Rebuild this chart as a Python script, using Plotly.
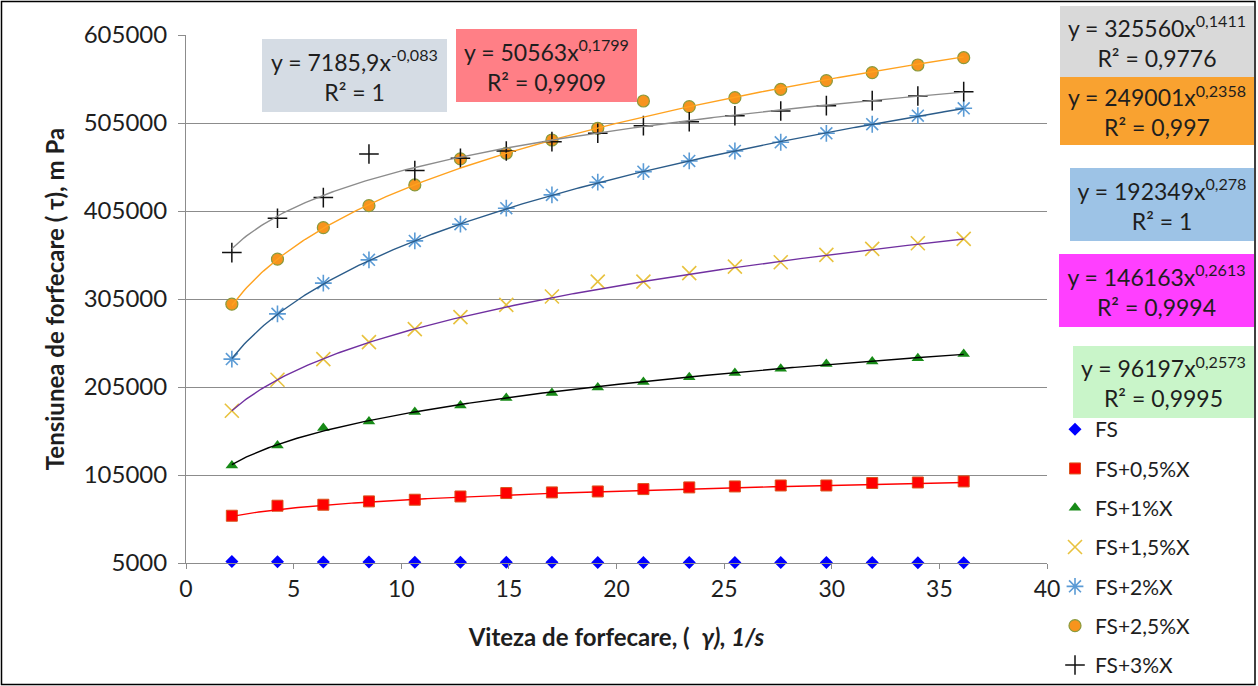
import numpy as np
import plotly.graph_objects as go

# Shear rate (1/s)
shear_rate = [2.13, 4.25, 6.38, 8.5, 10.63, 12.75, 14.88, 17.0, 19.13, 21.25,
              23.38, 25.5, 27.63, 29.75, 31.88, 34.0, 36.13]

# Shear stress (mPa) for each sample
tau_fs = [6800, 6400, 6200, 6000, 5900, 5850, 5800, 5750, 5700, 5650,
          5600, 5550, 5500, 5500, 5450, 5400, 5400]
tau_fs05 = [58700, 70100, 71200, 75000, 76900, 80600, 84500, 85200, 86300, 89000,
            90900, 92000, 93100, 93100, 95900, 96500, 97700]
tau_fs1 = [115800, 138600, 158300, 165800, 176500, 184000, 192400, 198100, 204400, 210600,
           216200, 220800, 225700, 231000, 234000, 237800, 242400]
tau_fs15 = [178000, 213200, 236700, 256000, 270700, 284400, 298300, 307800, 324800, 324800,
            334400, 341800, 346800, 355100, 362000, 368400, 373300]
tau_fs2 = [236700, 288100, 323000, 349500, 371000, 390000, 408200, 423300, 437700, 449700,
           461900, 473200, 483100, 493300, 503600, 513300, 521700]
tau_fs25 = [299100, 350300, 386100, 411100, 434600, 464200, 470600, 485700, 499000, 530000,
            523600, 533800, 543300, 553100, 562200, 570900, 579200]
tau_fs3 = [357700, 396800, 420200, 469800, 450900, 465000, 473200, 483800, 493300, 502000,
           506500, 513300, 518700, 524700, 530400, 535700, 540600]

series_names = ["FS", "FS+0,5%X", "FS+1%X", "FS+1,5%X", "FS+2%X", "FS+2,5%X", "FS+3%X"]

# Power-law trendlines y = a * x^b with their R² values
fit_a = [7185.9, 50563, 96197, 146163, 192349, 249001, 325560]
fit_b = [-0.083, 0.1799, 0.2573, 0.2613, 0.278, 0.2358, 0.1411]
fit_r2 = [1, 0.9909, 0.9995, 0.9994, 1, 0.997, 0.9776]

y_ticks = [5000, 105000, 205000, 305000, 405000, 505000, 605000]
x_ticks = [0, 5, 10, 15, 20, 25, 30, 35, 40]

all_tau = [tau_fs, tau_fs05, tau_fs1, tau_fs15, tau_fs2, tau_fs25, tau_fs3]

W, H = 1258, 686
ML, MR, MT, MB = 186, 211, 35, 123
PW, PH = W - ML - MR, H - MT - MB


def px_x(px):
    return (px - ML) / PW


def px_y(py):
    return (H - MB - py) / PH


def dec(v):
    return ("%g" % v).replace(".", ",")


markers = [
    dict(symbol="diamond", size=10, color="#0000FF"),
    dict(symbol="square", size=11, color="#FF0000", line=dict(color="#D9541E", width=1)),
    dict(symbol="triangle-up", size=11, color="#178A17"),
    dict(symbol="x-thin-open", size=14, color="#E8C23E", line=dict(color="#E8C23E", width=1.6)),
    dict(symbol="asterisk-open", size=14, color="#5B9BD5", line=dict(color="#5B9BD5", width=1.6)),
    dict(symbol="circle", size=12, color="#F7941D", line=dict(color="#8A9A3C", width=1.2)),
    dict(symbol="cross-thin-open", size=14, color="#111111", line=dict(color="#111111", width=1.5)),
]

trend_colors = [None, "#FF0000", "#000000", "#7030A0", "#2B5C8A", "#FFA21F", "#8C8C8C"]

fig = go.Figure()

for i, (name, tau) in enumerate(zip(series_names, all_tau)):
    fig.add_trace(go.Scatter(
        x=shear_rate, y=tau, mode="markers", name=name,
        marker=markers[i], legendgroup=name, cliponaxis=False,
    ))

xs = np.linspace(shear_rate[0], shear_rate[-1], 300)
for i in range(1, len(series_names)):
    fig.add_trace(go.Scatter(
        x=xs, y=fit_a[i] * xs ** fit_b[i], mode="lines",
        line=dict(color=trend_colors[i], width=1.4),
        showlegend=False, hoverinfo="skip",
    ))

# Trendline equation boxes: (left, top, width, height) in pixels, fill colour
eq_boxes = [
    (262, 39, 185, 73, "#D5DCE4"),
    (456, 29, 181, 73, "#FF7F86"),
    (1070, 168, 184, 73, "#9DC3E6"),
    (1059, 254, 195, 73, "#FF3FFF"),
    (1073, 346, 181, 72, "#C9F5C9"),
    (1060, 77, 194, 68, "#F9A230"),
    (1060, 6, 194, 71, "#D9D9D9"),
]
box_series = [0, 1, 4, 3, 2, 5, 6]

annotations = []
for (left, top, w, h, col), si in zip(eq_boxes, box_series):
    txt = "y = %sx<sup>%s</sup><br>R² = %s" % (dec(fit_a[si]), dec(fit_b[si]), dec(fit_r2[si]))
    annotations.append(dict(
        xref="paper", yref="paper", x=px_x(left), y=px_y(top),
        xanchor="left", yanchor="top", width=w, height=h,
        text=txt, showarrow=False, bgcolor=col, borderpad=0, borderwidth=0,
        align="center", valign="middle",
        font=dict(family="Lato", size=23, color="#1E1E1E"),
    ))

fig.update_layout(
    width=W, height=H,
    margin=dict(l=ML, r=MR, t=MT, b=MB, autoexpand=False),
    paper_bgcolor="white", plot_bgcolor="white",
    font=dict(family="Lato", color="#1E1E1E"),
    annotations=annotations,
    shapes=[dict(type="rect", xref="paper", yref="paper",
                 x0=px_x(1.5), x1=px_x(1255), y0=px_y(684.5), y1=px_y(1.5),
                 line=dict(color="#000000", width=1.5), layer="above")],
    legend=dict(
        x=px_x(1055), y=px_y(409), xanchor="left", yanchor="top",
        font=dict(family="Lato", size=21, color="#1E1E1E"),
        bgcolor="rgba(0,0,0,0)", tracegroupgap=9, itemwidth=30,
    ),
    xaxis=dict(
        range=[0, 40], tickvals=x_ticks, showgrid=False, zeroline=False,
        showline=True, linecolor="#8C8C8C", linewidth=1,
        ticks="outside", ticklen=5, tickcolor="#8C8C8C",
        tickfont=dict(family="Lato", size=23, color="#1E1E1E"),
        title=dict(text="<b>Viteza de forfecare, (  <i>γ), 1/s</i></b>",
                   font=dict(family="Lato", size=24, color="#1E1E1E"), standoff=28),
    ),
    yaxis=dict(
        range=[5000, 605000], tickvals=y_ticks, tickformat="d",
        showgrid=True, gridcolor="#8C8C8C", gridwidth=1, zeroline=False,
        showline=True, linecolor="#8C8C8C", linewidth=1,
        ticks="outside", ticklen=7, tickcolor="#8C8C8C", ticklabelstandoff=6,
        tickfont=dict(family="Lato", size=24, color="#1E1E1E"),
        title=dict(text="<b>Tensiunea de forfecare ( τ), m Pa</b>",
                   font=dict(family="Lato", size=24, color="#1E1E1E"), standoff=12),
    ),
)

fig.write_html("out.html")
